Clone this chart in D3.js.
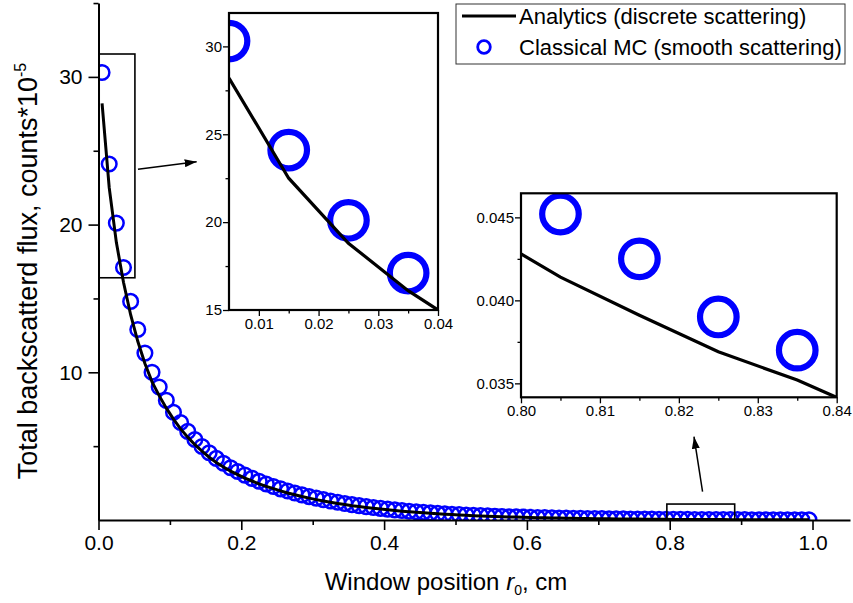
<!DOCTYPE html>
<html>
<head>
<meta charset="utf-8">
<script src="https://cdn.jsdelivr.net/npm/d3@7"></script>
<style>
  body { margin: 0; background: #fff; }
  text { font-family: "Liberation Sans", Arial, sans-serif; fill: #000; }
</style>
</head>
<body>
<script>
// window positions r0 (cm) of the MC points and of the analytic curve nodes
var rPos = [0.005,0.015,0.025,0.035,0.045,0.055,0.065,0.075,0.085,0.095,
            0.105,0.115,0.125,0.135,0.145,0.155,0.165,0.175,0.185,0.195,
            0.205,0.215,0.225,0.235,0.245,0.255,0.265,0.275,0.285,0.295,
            0.305,0.315,0.325,0.335,0.345,0.355,0.365,0.375,0.385,0.395,
            0.405,0.415,0.425,0.435,0.445,0.455,0.465,0.475,0.485,0.495,
            0.505,0.515,0.525,0.535,0.545,0.555,0.565,0.575,0.585,0.595,
            0.605,0.615,0.625,0.635,0.645,0.655,0.665,0.675,0.685,0.695,
            0.705,0.715,0.725,0.735,0.745,0.755,0.765,0.775,0.785,0.795,
            0.805,0.815,0.825,0.835,0.845,0.855,0.865,0.875,0.885,0.895,
            0.905,0.915,0.925,0.935,0.945,0.955,0.965,0.975,0.985,0.995];

// Classical MC (smooth scattering), counts*10^-5
var mcFlux = [30.3,24.1,20.1,17.1,14.8,12.9,11.3,10.0,9.0,8.1,
              7.3,6.6,6.0,5.45,4.98,4.55,4.17,3.84,3.54,3.28,
              3.04,2.82,2.62,2.44,2.27,2.11,1.96,1.83,1.70,1.585,
              1.48,1.38,1.285,1.20,1.12,1.04,0.97,0.905,0.845,0.79,
              0.735,0.685,0.64,0.595,0.555,0.52,0.485,0.45,0.42,0.39,
              0.365,0.34,0.317,0.296,0.276,0.257,0.24,0.224,0.209,0.195,
              0.182,0.17,0.158,0.148,0.138,0.129,0.120,0.112,0.104,0.097,
              0.091,0.085,0.079,0.074,0.069,0.064,0.060,0.056,0.052,0.0485,
              0.0452,0.0425,0.0390,0.0370,0.0345,0.0322,0.030,0.028,0.026,0.0243,
              0.0227,0.0211,0.0197,0.0184,0.0171,0.016,0.0149,0.0139,0.013,0.0121];

// Analytics (discrete scattering)
var anFlux = [28.2,22.5,18.8,16.1,13.9,12.1,10.6,9.35,8.42,7.57,
              6.83,6.17,5.61,5.10,4.66,4.25,3.90,3.59,3.31,3.07,
              2.84,2.64,2.45,2.28,2.12,1.97,1.83,1.71,1.59,1.48,
              1.38,1.29,1.20,1.12,1.05,0.97,0.907,0.846,0.79,0.739,
              0.687,0.64,0.598,0.556,0.519,0.486,0.453,0.421,0.393,0.365,
              0.341,0.318,0.296,0.277,0.258,0.240,0.224,0.209,0.195,0.182,
              0.170,0.159,0.148,0.138,0.129,0.121,0.112,0.105,0.097,0.091,
              0.085,0.079,0.074,0.069,0.0645,0.060,0.056,0.0524,0.0486,0.0442,
              0.0414,0.0391,0.0369,0.0352,0.0331,0.0309,0.0288,0.0269,0.0251,0.0234,
              0.0218,0.0203,0.0189,0.0176,0.0164,0.0153,0.0143,0.0133,0.0124,0.0116];

var xMajor = [0, 0.2, 0.4, 0.6, 0.8, 1.0];
var xMinor = [0.1, 0.3, 0.5, 0.7, 0.9];
var yMajor = [10, 20, 30];
var yMinor = [5, 15, 25, 35];

// zoom boxes on the main plot, in data units [x0, x1, y0, y1]
var zoomBoxes = [[0.001, 0.051, 16.4, 31.55], [0.796, 0.891, 0, 1.08]];
// arrows, in data units [x0, y0, x1, y1]
var arrows = [[0.0553, 23.74, 0.1375, 24.26], [0.846, 1.92, 0.834, 5.64]];

var blue = "#0000ff";
var width = 853, height = 603;

var svg = d3.select("body").append("svg")
            .attr("width", width)
            .attr("height", height);

var defs = svg.append("defs");
defs.append("marker")
    .attr("id", "head")
    .attr("viewBox", "0 0 12 8")
    .attr("refX", 12).attr("refY", 4)
    .attr("markerWidth", 12).attr("markerHeight", 8)
    .attr("markerUnits", "userSpaceOnUse")
    .attr("orient", "auto")
  .append("path")
    .attr("d", "M0,0L12,4L0,8Z")
    .attr("fill", "#000");

var x = d3.scaleLinear().domain([0, 1.0525]).range([98.5, 850]);
var y = d3.scaleLinear().domain([0, 35]).range([520, 3.05]);

var pts = rPos.map(function(r, i){ return {r: r, mc: mcFlux[i], an: anFlux[i]}; });

// main plot data, clipped to plot area
defs.append("clipPath").attr("id", "clipMain")
  .append("rect").attr("x", 98.5).attr("y", 0).attr("width", 752).attr("height", 520);

var main = svg.append("g").attr("clip-path", "url(#clipMain)");

main.selectAll("circle")
    .data(pts)
    .enter().append("circle")
    .attr("cx", function(d){ return x(d.r); })
    .attr("cy", function(d){ return y(d.mc); })
    .attr("r", 7.3)
    .attr("fill", "none")
    .attr("stroke", blue)
    .attr("stroke-width", 2.5);

main.append("path")
    .datum(pts)
    .attr("fill", "none")
    .attr("stroke", "#000")
    .attr("stroke-width", 3)
    .attr("d", d3.line().x(function(d){ return x(d.r); }).y(function(d){ return y(d.an); }));

// axes
function styleAxis(g, fs){
  g.select(".domain").attr("stroke-width", 2);
  g.selectAll(".tick line").attr("stroke-width", 1.6);
  g.selectAll(".tick text").style("font-size", fs + "px").attr("font-family", null);
}

var gx = svg.append("g").attr("transform", "translate(0,520)")
  .call(d3.axisBottom(x).tickValues(xMajor).tickFormat(d3.format(".1f"))
        .tickSize(10).tickSizeOuter(0).tickPadding(5));
styleAxis(gx, 21);
var gxm = svg.append("g").attr("transform", "translate(0,520)")
  .call(d3.axisBottom(x).tickValues(xMinor).tickFormat("").tickSize(5).tickSizeOuter(0));
gxm.select(".domain").remove();
gxm.selectAll(".tick line").attr("stroke-width", 1.6);

var gy = svg.append("g").attr("transform", "translate(98.5,0)")
  .call(d3.axisLeft(y).tickValues(yMajor).tickFormat(d3.format("d"))
        .tickSize(10).tickSizeOuter(0).tickPadding(6));
styleAxis(gy, 21);
var gym = svg.append("g").attr("transform", "translate(98.5,0)")
  .call(d3.axisLeft(y).tickValues(yMinor).tickFormat("").tickSize(5).tickSizeOuter(0));
gym.select(".domain").remove();
gym.selectAll(".tick line").attr("stroke-width", 1.6);

// axis titles
var xt = svg.append("text")
    .attr("x", 446).attr("y", 590)
    .attr("text-anchor", "middle")
    .style("font-size", "24px");
xt.append("tspan").text("Window position ");
xt.append("tspan").style("font-style", "italic").text("r");
xt.append("tspan").attr("dy", 5).style("font-size", "14px").text("0");
xt.append("tspan").attr("dy", -5).text(", cm");

var yt = svg.append("text")
    .attr("transform", "translate(37,271) rotate(-90)")
    .attr("text-anchor", "middle")
    .style("font-size", "27px");
yt.append("tspan").text("Total backscatterd flux, counts*10");
yt.append("tspan").attr("dy", -11).style("font-size", "16px").text("-5");

// zoom boxes and arrows
svg.selectAll("rect.zoombox")
    .data(zoomBoxes)
    .enter().append("rect")
    .attr("class", "zoombox")
    .attr("x", function(d){ return x(d[0]); })
    .attr("y", function(d){ return y(d[3]); })
    .attr("width", function(d){ return x(d[1]) - x(d[0]); })
    .attr("height", function(d){ return y(d[2]) - y(d[3]); })
    .attr("fill", "none")
    .attr("stroke", "#000")
    .attr("stroke-width", 1.6);

svg.selectAll("line.arrow")
    .data(arrows)
    .enter().append("line")
    .attr("class", "arrow")
    .attr("x1", function(d){ return x(d[0]); })
    .attr("y1", function(d){ return y(d[1]); })
    .attr("x2", function(d){ return x(d[2]); })
    .attr("y2", function(d){ return y(d[3]); })
    .attr("stroke", "#000")
    .attr("stroke-width", 1.5)
    .attr("marker-end", "url(#head)");

// insets
function drawInset(id, box, xDom, yDom, xt, xtm, yt, ytm, xf, yf){
  var ix = d3.scaleLinear().domain(xDom).range([box[0], box[1]]);
  var iy = d3.scaleLinear().domain(yDom).range([box[3], box[2]]);
  var g = svg.append("g");
  g.append("rect")
    .attr("x", box[0]).attr("y", box[2])
    .attr("width", box[1] - box[0]).attr("height", box[3] - box[2])
    .attr("fill", "#fff");
  defs.append("clipPath").attr("id", id)
    .append("rect").attr("x", box[0]).attr("y", box[2])
    .attr("width", box[1] - box[0]).attr("height", box[3] - box[2]);
  var inner = g.append("g").attr("clip-path", "url(#" + id + ")");
  var sub = pts.filter(function(d){ return d.r >= xDom[0] - 0.011 && d.r <= xDom[1] + 0.011; });
  inner.selectAll("circle")
    .data(sub)
    .enter().append("circle")
    .attr("cx", function(d){ return ix(d.r); })
    .attr("cy", function(d){ return iy(d.mc); })
    .attr("r", 18.3)
    .attr("fill", "none")
    .attr("stroke", blue)
    .attr("stroke-width", 6.2);
  inner.append("path")
    .datum(sub)
    .attr("fill", "none")
    .attr("stroke", "#000")
    .attr("stroke-width", 3.2)
    .attr("d", d3.line().x(function(d){ return ix(d.r); }).y(function(d){ return iy(d.an); }));

  var ax = g.append("g").attr("transform", "translate(0," + box[3] + ")")
    .call(d3.axisBottom(ix).tickValues(xt).tickFormat(d3.format(xf)).tickSize(6).tickSizeOuter(0).tickPadding(2));
  var axm = g.append("g").attr("transform", "translate(0," + box[3] + ")")
    .call(d3.axisBottom(ix).tickValues(xtm).tickFormat("").tickSize(3.5).tickSizeOuter(0));
  var ay = g.append("g").attr("transform", "translate(" + box[0] + ",0)")
    .call(d3.axisLeft(iy).tickValues(yt).tickFormat(d3.format(yf)).tickSize(6).tickSizeOuter(0).tickPadding(1));
  var aym = g.append("g").attr("transform", "translate(" + box[0] + ",0)")
    .call(d3.axisLeft(iy).tickValues(ytm).tickFormat("").tickSize(3.5).tickSizeOuter(0));
  [ax, axm, ay, aym].forEach(function(a){
    a.select(".domain").remove();
    a.selectAll(".tick line").attr("stroke-width", 1.3);
    a.selectAll(".tick text").style("font-size", "15px").attr("font-family", null);
  });
  g.append("rect")
    .attr("x", box[0]).attr("y", box[2])
    .attr("width", box[1] - box[0]).attr("height", box[3] - box[2])
    .attr("fill", "none")
    .attr("stroke", "#000")
    .attr("stroke-width", 2.2);
}

drawInset("clipA", [229, 438, 13, 310], [0.005, 0.04], [15, 31.9],
          [0.01, 0.02, 0.03, 0.04], [0.015, 0.025, 0.035],
          [15, 20, 25, 30], [17.5, 22.5, 27.5], ".2f", "d");
drawInset("clipB", [521, 836.7, 193.3, 397.3], [0.80, 0.84], [0.03416, 0.04645],
          [0.80, 0.81, 0.82, 0.83, 0.84], [0.805, 0.815, 0.825, 0.835],
          [0.035, 0.040, 0.045], [0.0375, 0.0425], ".2f", ".3f");

// legend
var leg = svg.append("g");
leg.append("rect")
   .attr("x", 456).attr("y", 4).attr("width", 389).attr("height", 60)
   .attr("fill", "#fff").attr("stroke", "#333").attr("stroke-width", 1);
leg.append("line")
   .attr("x1", 462).attr("x2", 516).attr("y1", 16).attr("y2", 16)
   .attr("stroke", "#000").attr("stroke-width", 3);
leg.append("circle")
   .attr("cx", 484).attr("cy", 47).attr("r", 6.3)
   .attr("fill", "none").attr("stroke", blue).attr("stroke-width", 2.8);
leg.append("text").attr("x", 519).attr("y", 16).attr("dy", "0.35em")
   .style("font-size", "22px").text("Analytics (discrete scattering)");
leg.append("text").attr("x", 519).attr("y", 47).attr("dy", "0.35em")
   .style("font-size", "22px").text("Classical MC (smooth scattering)");
</script>
</body>
</html>
